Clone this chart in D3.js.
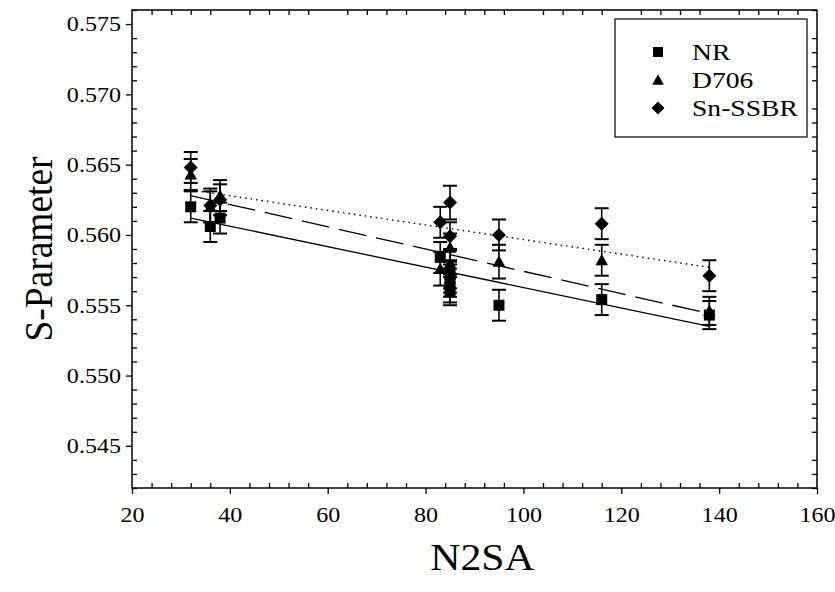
<!DOCTYPE html>
<html><head><meta charset="utf-8">
<script src="https://cdn.jsdelivr.net/npm/d3@7/dist/d3.min.js"></script>
<style>html,body{margin:0;padding:0;background:#fff;}svg{display:block;}</style>
</head><body>
<script>
// ---- data ----
const seriesNames = ["NR", "D706", "Sn-SSBR"];
const nrX   = [32, 36, 38, 83, 85, 85, 85, 95, 116, 138];
const nrY   = [0.5620, 0.5606, 0.5612, 0.5584, 0.5572, 0.5566, 0.5560, 0.5550, 0.5554, 0.5543];
const nrErr = [0.0011, 0.0011, 0.0011, 0.0011, 0.0010, 0.0010, 0.0010, 0.0011, 0.0011, 0.0010];
const d706X   = [32, 36, 38, 83, 85, 85, 85, 95, 116, 138];
const d706Y   = [0.5643, 0.5620, 0.5628, 0.5576, 0.5591, 0.5580, 0.5569, 0.5581, 0.5582, 0.5546];
const d706Err = [0.0011, 0.0011, 0.0011, 0.0012, 0.0010, 0.0010, 0.0010, 0.0012, 0.0011, 0.0010];
const snX   = [32, 36, 38, 83, 85, 85, 85, 95, 116, 138];
const snY   = [0.5648, 0.5621, 0.5625, 0.5609, 0.5623, 0.5599, 0.5562, 0.5600, 0.5608, 0.5571];
const snErr = [0.0011, 0.0012, 0.0011, 0.0011, 0.0012, 0.0010, 0.0010, 0.0011, 0.0011, 0.0011];
// regression lines (end points)
const fitX    = [32, 138];
const nrFit   = [0.5612, 0.5535];
const d706Fit = [0.5628, 0.5544];
const snFit   = [0.5632, 0.5577];
// axes
const xDomain = [20, 160];
const yDomain = [0.542, 0.576];
const xMajor = [20, 40, 60, 80, 100, 120, 140, 160];
const yMajor = [0.545, 0.550, 0.555, 0.560, 0.565, 0.570, 0.575];

// ---- layout ----
const W = 835, H = 592;
const L = 132, R = 817, T = 10, B = 488;
const svg = d3.select("body").append("svg").attr("width", W).attr("height", H);
const x = d3.scaleLinear().domain(xDomain).range([L, R]);
const y = d3.scaleLinear().domain(yDomain).range([B, T]);
const font = "'Liberation Serif', 'Times New Roman', serif";
const stretch = 1.12;

const xMinor = d3.range(20, 160.001, 4).filter(v => Math.abs(v % 20) > 1e-6);
const yMinor = d3.range(0, 35).map(i => +(0.542 + i * 0.001).toFixed(3)).filter(v => Math.abs(Math.round(v * 200) - v * 200) > 1e-6);

function styleAxis(g) {
  g.selectAll("path.domain").remove();
  g.selectAll("line").attr("stroke", "#000").attr("stroke-width", 1.3);
  g.selectAll("text").attr("font-family", font).attr("font-size", 21.5).attr("fill", "#000");
}
// bottom
svg.append("g").attr("transform", `translate(0,${B})`)
  .call(d3.axisBottom(x).tickValues(xMajor).tickSize(6).tickPadding(13).tickFormat(d3.format("d")))
  .call(styleAxis)
  .call(g => g.selectAll("text").attr("transform", `scale(${stretch},1)`).attr("x", 0));
svg.append("g").attr("transform", `translate(0,${B})`)
  .call(d3.axisBottom(x).tickValues(xMinor).tickSize(-5).tickFormat(""))
  .call(styleAxis);
// left
svg.append("g").attr("transform", `translate(${L},0)`)
  .call(d3.axisLeft(y).tickValues(yMajor).tickSize(6).tickPadding(5).tickFormat(d3.format(".3f")))
  .call(styleAxis)
  .call(g => g.selectAll("text").attr("x", -11 / stretch).attr("transform", `scale(${stretch},1)`));
svg.append("g").attr("transform", `translate(${L},0)`)
  .call(d3.axisLeft(y).tickValues(yMinor).tickSize(-5).tickFormat(""))
  .call(styleAxis);
// top & right (minor inward)
svg.append("g").attr("transform", `translate(0,${T})`)
  .call(d3.axisTop(x).tickValues(xMinor).tickSize(-5).tickFormat(""))
  .call(styleAxis);
svg.append("g").attr("transform", `translate(${R},0)`)
  .call(d3.axisRight(y).tickValues(yMinor).tickSize(-5).tickFormat(""))
  .call(styleAxis);
// frame
svg.append("rect").attr("x", L).attr("y", T).attr("width", R - L).attr("height", B - T)
  .attr("fill", "none").attr("stroke", "#000").attr("stroke-width", 1.5);

// titles
svg.append("text").attr("transform", `translate(${(L + R) / 2 + 8},570) scale(1.13,1)`)
  .attr("text-anchor", "middle").attr("font-family", font).attr("font-size", 37).text("N2SA");
svg.append("text").attr("transform", `translate(52,${(T + B) / 2}) rotate(-90) scale(1.04,1.12)`)
  .attr("text-anchor", "middle").attr("font-family", font).attr("font-size", 36).text("S-Parameter");

// regression lines
const lineGen = d3.line().x(d => x(d[0])).y(d => y(d[1]));
const fits = [
  {vals: nrFit, dash: null},
  {vals: d706Fit, dash: "28,10"},
  {vals: snFit, dash: "1.5,4"}
];
fits.forEach(f => {
  svg.append("path").datum(fitX.map((v, i) => [v, f.vals[i]]))
    .attr("d", lineGen).attr("fill", "none").attr("stroke", "#000")
    .attr("stroke-width", f.dash === "1.5,4" ? 1.4 : 1.3)
    .attr("stroke-dasharray", f.dash);
});

// markers
function squarePath(s) { const h = s / 2; return `M${-h},${-h}H${h}V${h}H${-h}Z`; }
function trianglePath(s) { const h = s / 2; return `M0,${-h * 1.05}L${h * 1.05},${h * 0.85}L${-h * 1.05},${h * 0.85}Z`; }
function diamondPath(s) { const h = s / 2; return `M0,${-h}L${h},0L0,${h}L${-h},0Z`; }
const series = [
  {xs: nrX, ys: nrY, es: nrErr, shape: squarePath, size: 11},
  {xs: d706X, ys: d706Y, es: d706Err, shape: trianglePath, size: 12},
  {xs: snX, ys: snY, es: snErr, shape: diamondPath, size: 14}
];
const capW = 7;
series.forEach(s => {
  const pts = s.xs.map((v, i) => ({x: v, y: s.ys[i], e: s.es[i]}));
  const g = svg.append("g");
  pts.forEach(p => {
    const px = x(p.x), y1 = y(p.y + p.e), y2 = y(p.y - p.e);
    g.append("line").attr("x1", px).attr("x2", px).attr("y1", y1).attr("y2", y2)
      .attr("stroke", "#000").attr("stroke-width", 1.6);
    [y1, y2].forEach(cy => g.append("line").attr("x1", px - capW).attr("x2", px + capW)
      .attr("y1", cy).attr("y2", cy).attr("stroke", "#000").attr("stroke-width", 2));
  });
  g.selectAll("path.m").data(pts).enter().append("path")
    .attr("transform", p => `translate(${x(p.x)},${y(p.y)})`)
    .attr("d", s.shape(s.size)).attr("fill", "#000");
});

// legend
const lg = svg.append("g");
lg.append("rect").attr("x", 615).attr("y", 19).attr("width", 192).attr("height", 118)
  .attr("fill", "#fff").attr("stroke", "#000").attr("stroke-width", 1.2);
const legendRows = [52, 80, 108];
seriesNames.forEach((n, i) => {
  lg.append("path").attr("transform", `translate(658,${legendRows[i]})`)
    .attr("d", series[i].shape(series[i].size - 1)).attr("fill", "#000");
  lg.append("text").attr("transform", `translate(692,${legendRows[i] + 8}) scale(1.2,1)`)
    .attr("font-family", font).attr("font-size", 23).text(n);
});
</script>
</body></html>
